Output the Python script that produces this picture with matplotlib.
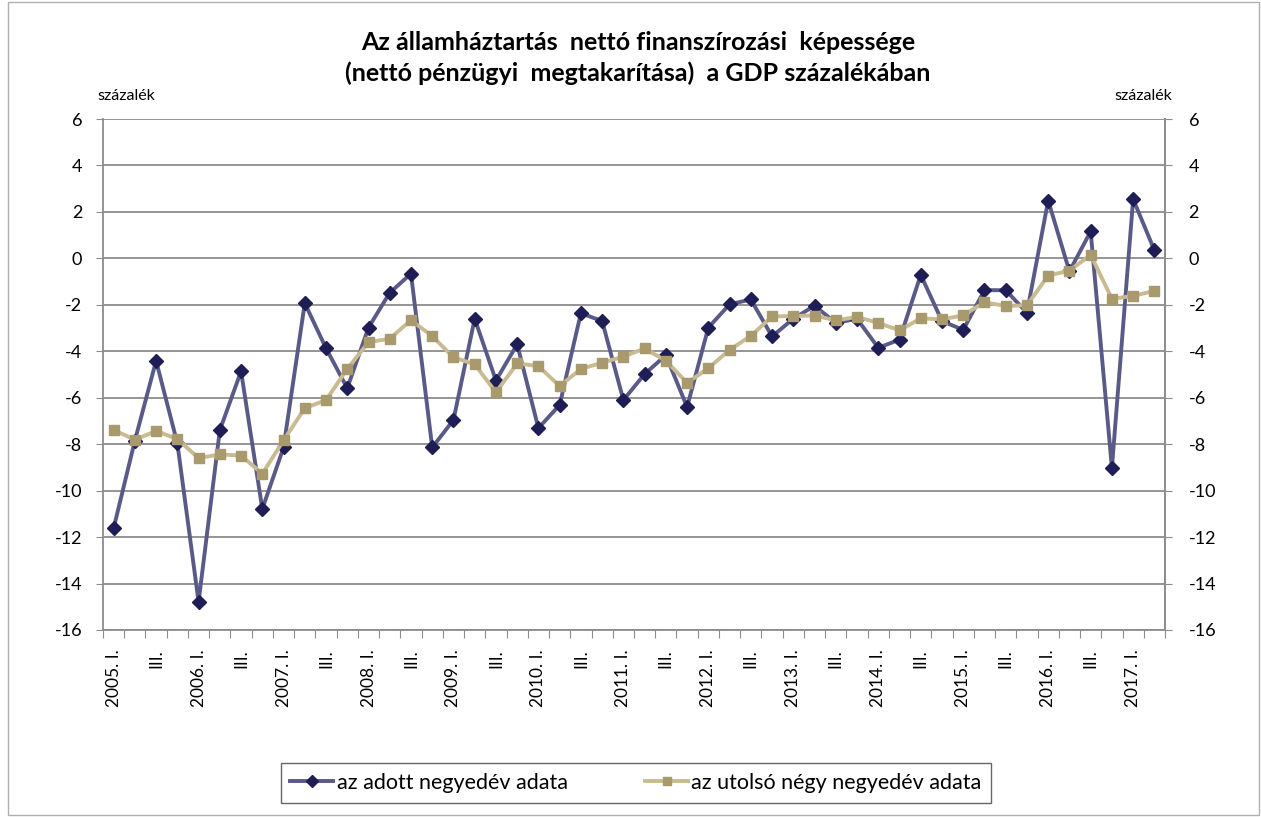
import matplotlib
matplotlib.use("Agg")
import matplotlib.pyplot as plt
from matplotlib.patches import Rectangle

plt.rcParams['font.family'] = ['Lato', 'DejaVu Sans']

# quarters 2005 Q1 .. 2017 Q2
years = list(range(2005, 2018))
quarters = []
for y in years:
    for q in ["I.", "II.", "III.", "IV."]:
        quarters.append((y, q))
quarters = quarters[:50]

tick_labels = [f"{y}. I." if q == "I." else ("III." if q == "III." else "") for (y, q) in quarters]

adott = [-11.62, -7.85, -4.41, -7.96, -14.79, -7.40, -4.86, -10.79, -8.14, -1.93,
         -3.87, -5.59, -2.98, -1.48, -0.66, -8.14, -6.96, -2.60, -5.26, -3.70,
         -7.31, -6.31, -2.36, -2.70, -6.10, -4.98, -4.17, -6.40, -2.98, -1.98,
         -1.77, -3.36, -2.60, -2.04, -2.78, -2.60, -3.85, -3.50, -0.71, -2.70,
         -3.08, -1.37, -1.37, -2.34, 2.49, -0.56, 1.16, -9.02, 2.55, 0.35]

utolso = [-7.39, -7.81, -7.43, -7.78, -8.60, -8.44, -8.49, -9.27, -7.84, -6.45,
          -6.10, -4.76, -3.61, -3.46, -2.66, -3.35, -4.26, -4.56, -5.77, -4.52,
          -4.64, -5.50, -4.76, -4.49, -4.23, -3.88, -4.41, -5.36, -4.73, -3.94,
          -3.34, -2.50, -2.48, -2.46, -2.67, -2.52, -2.78, -3.10, -2.58, -2.63,
          -2.45, -1.89, -2.05, -2.02, -0.74, -0.53, 0.15, -1.74, -1.62, -1.40]

title = "Az államháztartás  nettó finanszírozási  képessége\n(nettó pénzügyi  megtakarítása)  a GDP százalékában"
unit = "százalék"
legend_labels = ["az adott negyedév adata", "az utolsó négy negyedév adata"]
yticks = list(range(-16, 7, 2))

W, H = 1261, 817
fig = plt.figure(figsize=(W / 100, H / 100), dpi=100)
fig.patches.append(Rectangle((8 / W, 0.002), (W - 10) / W, 0.995, transform=fig.transFigure,
                             fill=False, edgecolor="#b0b0b0", linewidth=1))

L, R, T, B = 103, 1165, 119, 630
ax = fig.add_axes([L / W, 1 - B / H, (R - L) / W, (B - T) / H])

x = list(range(len(quarters)))
navy_line = "#5a5a88"
navy_mark = "#1f1d55"
tan_line = "#c8bb92"
tan_mark = "#a89a6d"

ax.plot(x, adott, color=navy_line, linewidth=2.8, marker="D", markersize=7.5,
        markerfacecolor=navy_mark, markeredgecolor=navy_mark, label=legend_labels[0], zorder=3)
ax.plot(x, utolso, color=tan_line, linewidth=2.8, marker="s", markersize=7.5,
        markerfacecolor=tan_mark, markeredgecolor=tan_mark, label=legend_labels[1], zorder=4)

ax.set_xlim(-0.5, len(quarters) - 0.5)
ax.set_ylim(-16, 6)
ax.set_yticks(yticks)
ax.set_yticklabels([str(v) for v in yticks], fontsize=13)
ax.yaxis.grid(True, color="#8c8c8c", linewidth=1.3)
ax.set_axisbelow(True)
ax.tick_params(axis="y", length=5, color="#8c8c8c", pad=10, direction="out")

ax.set_xticks([i - 0.5 for i in range(len(quarters) + 1)])
ax.set_xticklabels([])
ax.tick_params(axis="x", which="major", length=6, color="#8c8c8c", direction="out")
ax.set_xticks(x, minor=True)
ax.set_xticklabels(tick_labels, minor=True, rotation=90, fontsize=12.5)
ax.tick_params(axis="x", which="minor", length=0, pad=14)

for s in ["left", "right", "bottom"]:
    ax.spines[s].set_color("#8c8c8c")
    ax.spines[s].set_linewidth(1.3)
ax.spines["top"].set_visible(False)

ax2 = ax.twinx()
ax2.set_ylim(-16, 6)
ax2.set_yticks(yticks)
ax2.set_yticklabels([str(v) for v in yticks], fontsize=13)
ax2.tick_params(axis="y", length=5, color="#8c8c8c", pad=12, direction="out")
for s in ["left", "right", "bottom", "top"]:
    ax2.spines[s].set_visible(False)
ax2.spines["right"].set_visible(True)
ax2.spines["right"].set_color("#8c8c8c")
ax2.spines["right"].set_linewidth(1.3)
for lbl in ax2.get_yticklabels():
    lbl.set_horizontalalignment("left")

fig.text(638 / W, 1 - 58 / H, title, ha="center", va="center", fontsize=18,
         fontweight="bold", linespacing=1.33)
fig.text(97 / W, 1 - 96 / H, unit, ha="left", va="center", fontsize=11.5)
fig.text(1172 / W, 1 - 96 / H, unit, ha="right", va="center", fontsize=11.5)

leg = fig.legend(loc="center", bbox_to_anchor=(636 / W, 1 - 783 / H), ncol=2,
                 fontsize=15.5, frameon=True, fancybox=False, edgecolor="#404040",
                 handlelength=2.0, columnspacing=3.6, borderpad=0.45, handletextpad=0.15,
                 borderaxespad=0, markerscale=0.85)
leg.get_frame().set_linewidth(1.0)

fig.savefig("out.png", dpi=100)
